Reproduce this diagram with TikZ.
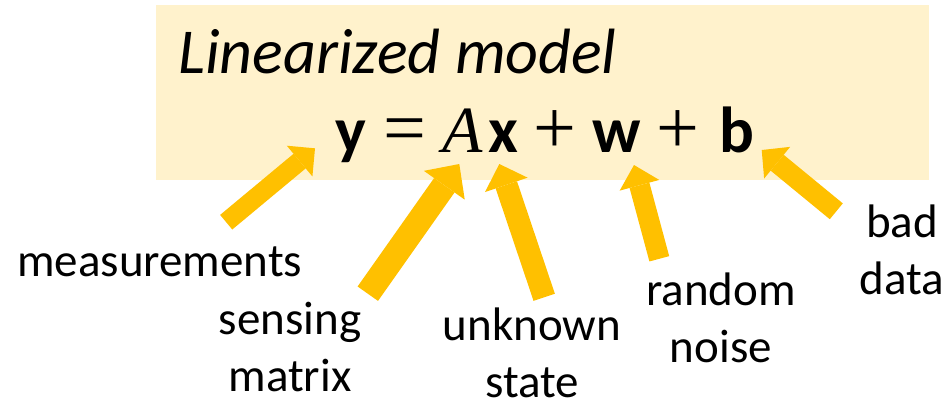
\documentclass[tikz,border=0pt]{standalone}
\usepackage{fontspec}
\setmainfont{Carlito}
\newfontfamily\eqserif{Liberation Serif}
\usetikzlibrary{arrows.meta}
\definecolor{boxfill}{HTML}{FFF2CC}
\definecolor{arrowgold}{HTML}{FFC000}
\begin{document}
\begin{tikzpicture}[x=1pt,y=-1pt,
  lbl/.style={font=\fontsize{47}{57}\selectfont, inner sep=0pt, align=center, anchor=base},
  eqb/.style={font=\fontsize{65}{70}\selectfont\bfseries, inner sep=0pt, anchor=base west},
  eqs/.style={font=\fontsize{76}{80}\selectfont\eqserif, inner sep=0pt, anchor=base west},
  blk/.style n args={3}{draw=arrowgold, line width=#1,
    -{Triangle[length=#3, width=#2, line width=0pt, fill=arrowgold]}},
]
\useasboundingbox (0,0) rectangle (948,405);
% panel
\node (panel) [fill=boxfill, inner sep=0pt, minimum width=773pt, minimum height=175pt,
  anchor=north west] at (156,5) {};
\node (title) [anchor=base west, inner sep=0pt, font=\fontsize{64}{70}\selectfont\itshape]
  at (178,73) {Linearized model};
% equation
\node[eqb] (ey) at (335,152) {y};
\node[eqs] (eeq) at (383,153) {=};
\node[eqs, font=\fontsize{66}{70}\selectfont\eqserif\itshape] (eA) at (442,152) {A};
\node[eqb] (ex) at (488,152) {x};
\node[eqs] (ep1) at (533,153) {+};
\node[eqb] (ew) at (592,152) {w};
\node[eqs] (ep2) at (656,153) {+};
\node[eqb] (eb) at (719,152) {b};
% labels (base anchor = baseline of the last line)
\node[lbl, anchor=base west] (lmeas) at (17,276) {measurements};
\node[lbl] (lsens) at (290,391) {sensing\\matrix};
\node[lbl, text depth=0pt] (lunk) at (532,397) {unknown\\state};
\node[lbl] (lrand) at (721,362) {random\\noise};
\node[lbl] (lbad) at (902,294) {bad\\data};
% arrow ends
\coordinate (t1) at (226.2,222.2); \coordinate (h1) at (315,148.3);
\coordinate (t2) at (367.8,293.7); \coordinate (h2) at (459.3,164);
\coordinate (t3) at (544.2,297.3); \coordinate (h3) at (499.3,164);
\coordinate (t4) at (659.3,258.8); \coordinate (h4) at (634,165);
\coordinate (t5) at (836.3,211.3); \coordinate (h5) at (761.7,150);
\draw[blk={19pt}{40pt}{20pt}] (t1) -- (h1);
\draw[blk={25pt}{50pt}{26pt}] (t2) -- (h2);
\draw[blk={22.5pt}{45pt}{22pt}] (t3) -- (h3);
\draw[blk={20.5pt}{41pt}{21pt}] (t4) -- (h4);
\draw[blk={20.5pt}{41pt}{20pt}] (t5) -- (h5);
\end{tikzpicture}
\end{document}
